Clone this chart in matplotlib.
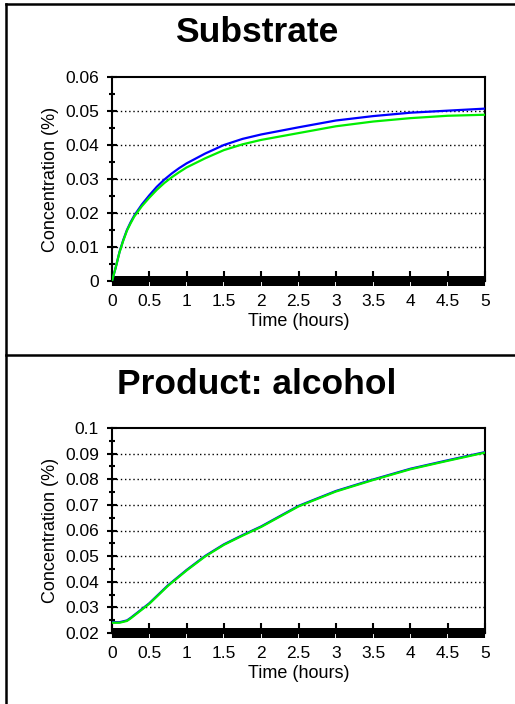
import numpy as np
import matplotlib
matplotlib.use("Agg")
import matplotlib.pyplot as plt
from matplotlib.lines import Line2D
from matplotlib.ticker import MultipleLocator

plt.rcParams['font.family'] = ['Liberation Sans', 'DejaVu Sans']

# data
time_sub = [0, 0.05, 0.1, 0.15, 0.2, 0.25, 0.3, 0.4, 0.5, 0.6, 0.7, 0.8, 0.9, 1.0,
            1.25, 1.5, 1.75, 2.0, 2.5, 3.0, 3.5, 4.0, 4.5, 5.0]
sub_blue = [0, 0.0040, 0.0085, 0.0120, 0.0150, 0.0173, 0.0193, 0.0225, 0.0252, 0.0277,
            0.0298, 0.0316, 0.0332, 0.0346, 0.0375, 0.0400, 0.0418, 0.0431, 0.0452,
            0.0472, 0.0485, 0.0495, 0.0501, 0.0507]
sub_green = [0, 0.0040, 0.0084, 0.0118, 0.0148, 0.0170, 0.0190, 0.0220, 0.0245, 0.0268,
             0.0288, 0.0305, 0.0320, 0.0334, 0.0361, 0.0385, 0.0402, 0.0415, 0.0435,
             0.0455, 0.0469, 0.0479, 0.0486, 0.0489]

time_prod = [0, 0.1, 0.2, 0.25, 0.5, 0.75, 1.0, 1.25, 1.5, 1.75, 2.0, 2.5, 3.0, 3.5,
             4.0, 4.5, 5.0]
prod_blue = [0.0242, 0.0242, 0.0249, 0.0259, 0.0316, 0.0386, 0.0446, 0.0501, 0.0546,
             0.0582, 0.0616, 0.0696, 0.0754, 0.0799, 0.0841, 0.0874, 0.0906]
prod_green = [0.0240, 0.0240, 0.0247, 0.0257, 0.0314, 0.0384, 0.0444, 0.0499, 0.0544,
              0.0580, 0.0614, 0.0694, 0.0752, 0.0797, 0.0839, 0.0872, 0.0904]

xticks = [0, 0.5, 1, 1.5, 2, 2.5, 3, 3.5, 4, 4.5, 5]
xticklabels = ['0', '0.5', '1', '1.5', '2', '2.5', '3', '3.5', '4', '4.5', '5']

W, H = 515, 704
fig = plt.figure(figsize=(W / 100, H / 100), dpi=100)


def px_axes(left, top, right, bottom):
    return fig.add_axes([left / W, 1 - bottom / H, (right - left) / W, (bottom - top) / H])


def panel(ax, title, title_y, t, blue, green, ymin, ymax, ystep, yfmt):
    ax.plot(t, blue, color='#0000ff', lw=1.6, zorder=3)
    ax.plot(t, green, color='#00ee00', lw=1.6, zorder=4)
    ax.set_xlim(0, 5)
    ax.set_ylim(ymin, ymax)
    yt = np.arange(ymin, ymax + ystep / 2, ystep)
    ax.set_yticks(yt)
    ax.set_yticklabels([yfmt(v) for v in yt])
    ax.yaxis.set_minor_locator(MultipleLocator(ystep / 2))
    ax.set_xticks(xticks)
    ax.set_xticklabels(xticklabels)
    # dense marks along the bottom, like the original
    ax.xaxis.set_minor_locator(MultipleLocator(0.02))
    ax.tick_params(axis='y', which='major', direction='inout', length=7, width=1.5,
                   labelsize=12.5, pad=6)
    ax.tick_params(axis='y', which='minor', direction='inout', length=5, width=1.5)
    ax.tick_params(axis='x', which='major', direction='in', length=7, width=1.5,
                   labelsize=12.5, pad=9)
    ax.tick_params(axis='x', which='minor', direction='inout', length=7, width=1.5,
                   color='black')
    for v in yt[1:-1]:
        ax.axhline(v, color='black', lw=1.0, ls=(0, (1, 2)), zorder=1)
    for s in ax.spines.values():
        s.set_linewidth(1.5)
    ax.set_xlabel('Time (hours)', fontsize=13, labelpad=3)
    ax.set_ylabel('Concentration (%)', fontsize=13, labelpad=4)
    fig.text(257 / W, 1 - title_y / H, title, fontsize=25.5, fontweight='bold',
             ha='center', va='center')


ax1 = px_axes(112, 77, 485, 281)
panel(ax1, 'Substrate', 33, time_sub, sub_blue, sub_green, 0.0, 0.06, 0.01,
      lambda v: '0' if abs(v) < 1e-9 else '%g' % round(v, 2))

ax2 = px_axes(112, 428, 485, 633)
panel(ax2, 'Product: alcohol', 384, time_prod, prod_blue, prod_green, 0.02, 0.1, 0.01,
      lambda v: '%g' % round(v, 2))

# panel frame lines
fig.add_artist(Line2D([6 / W, 6 / W], [0, 1 - 4 / H], color='black', lw=1.8))
fig.add_artist(Line2D([6 / W, 1], [1 - 4 / H, 1 - 4 / H], color='black', lw=1.8))
fig.add_artist(Line2D([6 / W, 1], [1 - 355 / H, 1 - 355 / H], color='black', lw=1.8))

fig.savefig('out.png', dpi=100)
